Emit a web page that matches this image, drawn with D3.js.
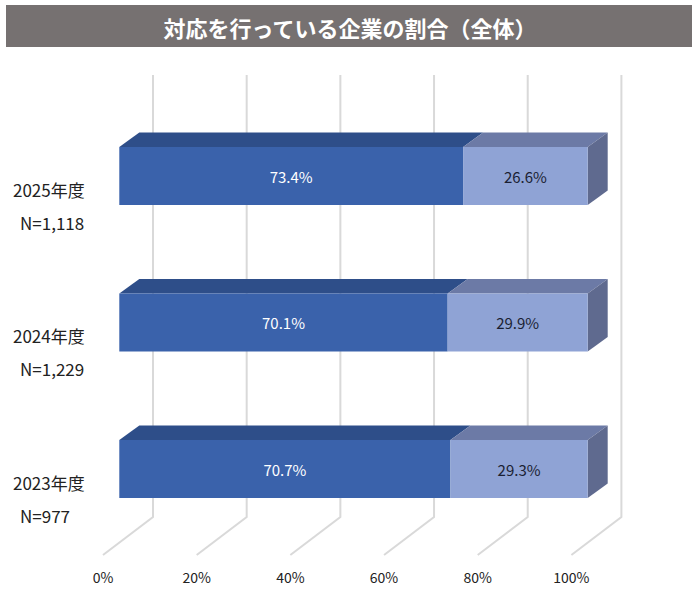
<!DOCTYPE html>
<html>
<head>
<meta charset="utf-8">
<script src="https://cdnjs.cloudflare.com/ajax/libs/d3/7.8.5/d3.min.js"></script>
<style>
  body { margin: 0; background: #fff; }
  svg { display: block; font-family: "Noto Sans CJK JP", "Noto Sans", sans-serif; }
</style>
</head>
<body>
<div id="chart"></div>
<script>
// データ
const categories = ["2025年度", "2024年度", "2023年度"];
const counts = ["N=1,118", "N=1,229", "N=977"];
const doing = [73.4, 70.1, 70.7];      // 対応を行っている
const notDoing = [26.6, 29.9, 29.3];   // それ以外
const tickValues = [0, 20, 40, 60, 80, 100];
const title = "対応を行っている企業の割合（全体）";

const W = 700, H = 589;
const svg = d3.select("#chart").append("svg")
    .attr("width", W).attr("height", H);

// タイトル帯
svg.append("rect")
    .attr("x", 6).attr("y", 5).attr("width", 686).attr("height", 42)
    .attr("fill", "#767171");
svg.append("text")
    .attr("x", W / 2).attr("y", 27)
    .attr("text-anchor", "middle").attr("dominant-baseline", "central")
    .attr("fill", "#fff").attr("font-size", "22px").attr("font-weight", "bold")
    .text(title);

// スケール（棒の前面基準）
const x = d3.scaleLinear().domain([0, 100]).range([119.3, 587.7]);
const y = d3.scalePoint().domain(categories).range([176, 469]);
const barH = 58;

// 奥行き（3D）オフセット
const wall = {dx: 33.7, dy: 0};          // 棒前面 -> 背面の壁
const depth = {dx: 20, dy: -14.5};       // 棒の奥行き
const floorFront = {dx: -16.3, dy: 38};  // 壁下端 -> 床の手前
const wallTop = 75, wallBottom = 517;

// グリッド線（壁 + 床）
const grid = svg.append("g")
    .attr("fill", "none").attr("stroke", "#d9d9d9").attr("stroke-width", 2);
grid.selectAll("path")
    .data(tickValues)
    .enter().append("path")
    .attr("d", d => {
        const xb = x(d) + wall.dx;
        return `M${xb},${wallTop}L${xb},${wallBottom}L${x(d) + floorFront.dx},${wallBottom + floorFront.dy}`;
    });

// 目盛ラベル
svg.append("g").selectAll("text")
    .data(tickValues)
    .enter().append("text")
    .attr("x", d => x(d) + floorFront.dx)
    .attr("y", 577)
    .attr("text-anchor", "middle").attr("dominant-baseline", "central")
    .attr("font-size", "14px").attr("fill", "#222")
    .text(d => d + "%");

// 棒データ
const segs = [];
categories.forEach((c, i) => {
    segs.push({cat: c, x0: 0, x1: doing[i], v: doing[i], dark: true});
    segs.push({cat: c, x0: doing[i], x1: doing[i] + notDoing[i], v: notDoing[i], dark: false});
});

const colors = {
    dark: {front: "#3a62ab", top: "#2e4e89"},
    light: {front: "#8fa3d5", top: "#6c7aa6"},
    side: "#5f6a8f"
};

const bars = svg.append("g");
segs.forEach(s => {
    const g = bars.append("g");
    const yt = y(s.cat) - barH / 2, yb = y(s.cat) + barH / 2;
    const xa = x(s.x0), xz = x(s.x1);
    const c = s.dark ? colors.dark : colors.light;
    // 上面
    g.append("path")
        .attr("d", `M${xa},${yt}L${xa + depth.dx},${yt + depth.dy}L${xz + depth.dx},${yt + depth.dy}L${xz},${yt}Z`)
        .attr("fill", c.top);
    // 右側面（最後のセグメントのみ）
    if (!s.dark) {
        g.append("path")
            .attr("d", `M${xz},${yt}L${xz + depth.dx},${yt + depth.dy}L${xz + depth.dx},${yb + depth.dy}L${xz},${yb}Z`)
            .attr("fill", colors.side);
    }
    // 前面
    g.append("rect")
        .attr("x", xa).attr("y", yt)
        .attr("width", xz - xa).attr("height", barH)
        .attr("fill", c.front);
    // 値ラベル
    g.append("text")
        .attr("x", (xa + xz) / 2).attr("y", y(s.cat))
        .attr("text-anchor", "middle").attr("dominant-baseline", "central")
        .attr("font-size", "15px")
        .attr("fill", s.dark ? "#fff" : "#1b1f33")
        .text(s.v.toFixed(1) + "%");
});

// カテゴリラベル
const labels = svg.append("g").attr("font-size", "17px").attr("fill", "#222");
labels.selectAll(".cat")
    .data(categories)
    .enter().append("text")
    .attr("class", "cat")
    .attr("x", 13).attr("y", d => y(d) + 13)
    .attr("dominant-baseline", "central")
    .text(d => d);
labels.selectAll(".n")
    .data(categories)
    .enter().append("text")
    .attr("class", "n")
    .attr("x", 20).attr("y", (d, i) => y(d) + 46)
    .attr("dominant-baseline", "central")
    .text((d, i) => counts[i]);
</script>
</body>
</html>
